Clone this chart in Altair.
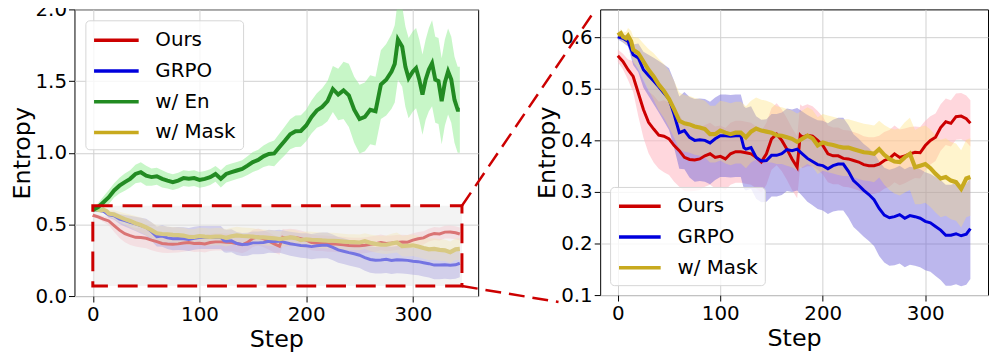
import altair as alt
import pandas as pd

# ---------------- data ----------------
SERIES = ["Ours", "GRPO", "w/ En", "w/ Mask"]
LINE_COLORS = ["#cc0000", "#0000dd", "#228b22", "#c8aa1e"]
BAND_COLORS = ["#ffb6c1", "#6a5fd8", "#90ee90", "#ffdf70"]

X_TICKS = [0, 100, 200, 300]
YL_TICKS = [0.0, 0.5, 1.0, 1.5, 2.0]
YR_TICKS = [0.1, 0.2, 0.3, 0.4, 0.5, 0.6]

ours_steps = sorted(list(range(0, 180, 5)) + [178] + list(range(180, 345, 5)) + [344])
ours_mean = [0.564, 0.553, 0.537, 0.524, 0.492, 0.460, 0.435, 0.422, 0.410, 0.408,
             0.403, 0.390, 0.380, 0.367, 0.363, 0.362, 0.364, 0.370, 0.374, 0.367,
             0.369, 0.364, 0.374, 0.378, 0.378, 0.376, 0.374, 0.367, 0.358, 0.374,
             0.403, 0.412, 0.400, 0.383, 0.364, 0.348, 0.410, 0.406, 0.410, 0.408,
             0.400, 0.390, 0.374, 0.370, 0.370, 0.365, 0.364, 0.361, 0.358, 0.353,
             0.351, 0.351, 0.354, 0.361, 0.365, 0.374, 0.367, 0.370, 0.374, 0.377,
             0.376, 0.390, 0.400, 0.406, 0.425, 0.436, 0.433, 0.446, 0.447, 0.442,
             0.433]
ours_sd = [0.012, 0.015, 0.020, 0.030, 0.045, 0.055, 0.060, 0.065, 0.065, 0.070,
           0.070, 0.070, 0.070, 0.065, 0.062, 0.060, 0.060, 0.060, 0.060, 0.060,
           0.060, 0.060, 0.060, 0.060, 0.060, 0.060, 0.060, 0.060, 0.060, 0.060,
           0.060, 0.060, 0.060, 0.060, 0.060, 0.060, 0.060, 0.060, 0.060, 0.058,
           0.057, 0.056, 0.055, 0.055, 0.055, 0.055, 0.055, 0.055, 0.055, 0.055,
           0.055, 0.055, 0.055, 0.055, 0.055, 0.055, 0.054, 0.053, 0.052, 0.050,
           0.050, 0.048, 0.047, 0.046, 0.045, 0.045, 0.045, 0.045, 0.045, 0.045,
           0.045]

grpo_steps = sorted(list(range(0, 125, 5)) + [123] + list(range(125, 345, 5)) + [344])
grpo_mean = [0.601, 0.598, 0.592, 0.566, 0.560, 0.537, 0.526, 0.515, 0.504, 0.492,
             0.480, 0.450, 0.415, 0.419, 0.406, 0.400, 0.401, 0.400, 0.395, 0.403,
             0.409, 0.409, 0.408, 0.409, 0.409, 0.386, 0.383, 0.386, 0.367, 0.360,
             0.361, 0.371, 0.371, 0.374, 0.382, 0.380, 0.383, 0.374, 0.365, 0.359,
             0.353, 0.351, 0.345, 0.351, 0.354, 0.354, 0.340, 0.322, 0.313, 0.303,
             0.295, 0.285, 0.268, 0.255, 0.250, 0.252, 0.256, 0.249, 0.254, 0.252,
             0.249, 0.243, 0.240, 0.233, 0.226, 0.216, 0.216, 0.219, 0.215, 0.218,
             0.229]
grpo_sd = [0.005, 0.008, 0.010, 0.020, 0.028, 0.035, 0.040, 0.045, 0.050, 0.055,
           0.060, 0.065, 0.070, 0.075, 0.078, 0.080, 0.080, 0.080, 0.080, 0.080,
           0.080, 0.080, 0.080, 0.080, 0.080, 0.080, 0.080, 0.080, 0.080, 0.080,
           0.080, 0.080, 0.080, 0.080, 0.080, 0.080, 0.080, 0.082, 0.084, 0.085,
           0.086, 0.087, 0.088, 0.089, 0.090, 0.090, 0.090, 0.090, 0.090, 0.090,
           0.090, 0.090, 0.092, 0.092, 0.093, 0.094, 0.095, 0.095, 0.095, 0.095,
           0.095, 0.095, 0.095, 0.096, 0.097, 0.098, 0.098, 0.098, 0.098, 0.098,
           0.098]

mask_steps = [0, 3, 5, 8, 10, 13] + list(range(15, 345, 5)) + [344]
mask_mean = [0.604, 0.608, 0.601, 0.598, 0.603, 0.592,
             0.576, 0.569, 0.553, 0.537, 0.524, 0.508, 0.496, 0.480, 0.460, 0.438,
             0.433, 0.431, 0.427, 0.425, 0.422, 0.412, 0.412, 0.419, 0.415, 0.412,
             0.415, 0.415, 0.406, 0.417, 0.423, 0.419, 0.417, 0.415, 0.410, 0.409,
             0.406, 0.403, 0.397, 0.403, 0.409, 0.404, 0.390, 0.396, 0.393, 0.391,
             0.388, 0.386, 0.386, 0.383, 0.380, 0.377, 0.376, 0.374, 0.383, 0.372,
             0.364, 0.359, 0.358, 0.367, 0.374, 0.348, 0.351, 0.354, 0.346, 0.335,
             0.326, 0.329, 0.322, 0.319, 0.306, 0.326,
             0.329]
mask_sd = [0.005, 0.008, 0.010, 0.012, 0.015, 0.020,
           0.025, 0.030, 0.035, 0.040, 0.045, 0.050, 0.052, 0.055, 0.055, 0.055,
           0.055, 0.055, 0.055, 0.055, 0.055, 0.055, 0.055, 0.058, 0.060, 0.060,
           0.060, 0.060, 0.060, 0.060, 0.060, 0.060, 0.060, 0.058, 0.056, 0.055,
           0.055, 0.055, 0.055, 0.055, 0.055, 0.055, 0.055, 0.055, 0.055, 0.055,
           0.055, 0.055, 0.055, 0.055, 0.055, 0.055, 0.055, 0.055, 0.055, 0.058,
           0.060, 0.062, 0.065, 0.068, 0.070, 0.072, 0.075, 0.075, 0.075, 0.075,
           0.075, 0.075, 0.075, 0.075, 0.075, 0.075,
           0.075]

en_steps = list(range(0, 285, 5)) + [283, 286, 290, 293, 296, 300, 303, 306, 309, 312,
                                     315, 318, 321, 324, 327, 330, 333, 336, 339, 342, 344]
en_mean = [0.600, 0.620, 0.655, 0.690, 0.737, 0.770, 0.795, 0.818, 0.852, 0.864,
           0.840, 0.830, 0.836, 0.818, 0.806, 0.795, 0.806, 0.823, 0.818, 0.823,
           0.810, 0.818, 0.830, 0.852, 0.818, 0.852, 0.864, 0.876, 0.887, 0.910,
           0.935, 0.950, 0.975, 0.991, 0.995, 1.040, 1.083, 1.129, 1.150, 1.152,
           1.190, 1.250, 1.295, 1.320, 1.360, 1.445, 1.406, 1.435, 1.400, 1.300,
           1.235, 1.250, 1.300, 1.290, 1.475, 1.509, 1.567,
           1.620, 1.790, 1.740, 1.600, 1.520, 1.567, 1.590, 1.510, 1.405, 1.510,
           1.580, 1.624, 1.510, 1.500, 1.360, 1.490, 1.567, 1.510, 1.370, 1.300,
           1.300]
en_sd = [0.010, 0.030, 0.040, 0.050, 0.050, 0.055, 0.060, 0.060, 0.065, 0.070,
         0.070, 0.060, 0.060, 0.060, 0.055, 0.055, 0.055, 0.055, 0.055, 0.055,
         0.055, 0.055, 0.055, 0.055, 0.060, 0.060, 0.060, 0.060, 0.060, 0.065,
         0.070, 0.070, 0.075, 0.080, 0.090, 0.095, 0.100, 0.105, 0.110, 0.110,
         0.110, 0.115, 0.120, 0.130, 0.140, 0.160, 0.180, 0.200, 0.220, 0.230,
         0.240, 0.240, 0.240, 0.240, 0.240, 0.250, 0.260,
         0.270, 0.280, 0.280, 0.280, 0.280, 0.280, 0.280, 0.280, 0.280, 0.280,
         0.290, 0.300, 0.300, 0.300, 0.300, 0.300, 0.300, 0.300, 0.300, 0.300,
         0.300]


def frame(name, steps, vals, sds):
    return pd.DataFrame({
        "step": steps,
        "value": vals,
        "lo": [v - s for v, s in zip(vals, sds)],
        "hi": [v + s for v, s in zip(vals, sds)],
        "series": [name] * len(steps),
    })


df_ours = frame("Ours", ours_steps, ours_mean, ours_sd)
df_grpo = frame("GRPO", grpo_steps, grpo_mean, grpo_sd)
df_en = frame("w/ En", en_steps, en_mean, en_sd)
df_mask = frame("w/ Mask", mask_steps, mask_mean, mask_sd)

BAND_OPACITY = {"Ours": 0.55, "GRPO": 0.45, "w/ En": 0.5, "w/ Mask": 0.35}
LINE_WIDTH = {"Ours": 3, "GRPO": 3, "w/ En": 4, "w/ Mask": 4.2}

RED = "#cc0000"
XDOM = [-17.2, 361.2]


def x_enc():
    return alt.X("step:Q", scale=alt.Scale(domain=XDOM, nice=False, zero=False),
                 axis=alt.Axis(values=X_TICKS, title="Step", format="d"))


def y_axis(ticks):
    return alt.Axis(values=ticks, format=".1f", title="Entropy",
                    labelPadding=2, titlePadding=1)


def panel_layers(frames, names, ydom, yticks, leg):
    yscale = alt.Scale(domain=ydom, nice=False, zero=False)
    cols = [LINE_COLORS[SERIES.index(n)] for n in names]
    bcols = [BAND_COLORS[SERIES.index(n)] for n in names]
    cscale = alt.Scale(domain=names, range=cols)
    bands, lines = {}, {}
    for n, d, bc in zip(names, frames, bcols):
        bands[n] = alt.Chart(d).mark_area(opacity=BAND_OPACITY[n], clip=True, color=bc).encode(
            x=x_enc(),
            y=alt.Y("lo:Q", scale=yscale, axis=y_axis(yticks)),
            y2="hi:Q",
        )
        lines[n] = alt.Chart(d).mark_line(strokeWidth=LINE_WIDTH[n], clip=True).encode(
            x=x_enc(),
            y=alt.Y("value:Q", scale=yscale, axis=y_axis(yticks)),
            color=alt.Color("series:N", scale=cscale, legend=leg),
        )
    return bands, lines, yscale


def make_legend(orient, offset, size, label_offset):
    return alt.Legend(orient=orient, offset=offset, title=None,
                      labelFontSize=20, labelColor="black", labelFont="DejaVu Sans",
                      symbolType="M-1,0H3", symbolSize=size, symbolStrokeWidth=3.5,
                      labelOffset=label_offset, rowPadding=8, padding=7,
                      fillColor="rgba(255,255,255,0.8)", strokeColor="#d6d6d6",
                      cornerRadius=4)


# ---------------- left panel ----------------
left_names = ["Ours", "GRPO", "w/ En", "w/ Mask"]
lb, ll, yl_scale = panel_layers([df_ours, df_grpo, df_en, df_mask], left_names,
                                [0, 2], YL_TICKS, make_legend("top-left", 11, 506, 37.5))

zoom_box = pd.DataFrame({"step": [0], "step2": [346], "value": [0.07], "value2": [0.63]})
overlay = alt.Chart(zoom_box).mark_rect(fill="#e8e8e8", opacity=0.5).encode(
    x=x_enc(), x2="step2:Q",
    y=alt.Y("value:Q", scale=yl_scale, axis=y_axis(YL_TICKS)), y2="value2:Q")
box_edge = alt.Chart(zoom_box).mark_rect(filled=False, color=RED, strokeWidth=3,
                                         strokeDash=[20, 10]).encode(
    x=x_enc(), x2="step2:Q",
    y=alt.Y("value:Q", scale=yl_scale, axis=y_axis(YL_TICKS)), y2="value2:Q")

corner_top = pd.DataFrame({"step": [346], "value": [0.63]})
corner_bot = pd.DataFrame({"step": [346], "value": [0.07]})
conn_top = alt.Chart(corner_top).mark_rule(color=RED, strokeWidth=2.5, strokeDash=[16, 8]).encode(
    x=x_enc(), y=alt.Y("value:Q", scale=yl_scale, axis=y_axis(YL_TICKS)),
    x2=alt.value(524), y2=alt.value(2))
conn_bot = alt.Chart(corner_bot).mark_rule(color=RED, strokeWidth=2.5, strokeDash=[16, 8]).encode(
    x=x_enc(), y=alt.Y("value:Q", scale=yl_scale, axis=y_axis(YL_TICKS)),
    x2=alt.value(488), y2=alt.value(295))

left = alt.layer(
    lb["Ours"], lb["GRPO"], lb["w/ Mask"],
    ll["Ours"], ll["GRPO"], ll["w/ Mask"],
    overlay,
    lb["w/ En"], ll["w/ En"],
    box_edge, conn_top, conn_bot,
).properties(width=407, height=289)

# ---------------- right panel ----------------
right_names = ["Ours", "GRPO", "w/ Mask"]
rb, rl, _ = panel_layers([df_ours, df_grpo, df_mask], right_names,
                         [0.1, 0.654], YR_TICKS, make_legend("bottom-left", 10, 441, 36))
right = alt.layer(
    rb["Ours"], rb["GRPO"], rb["w/ Mask"],
    rl["Ours"], rl["GRPO"], rl["w/ Mask"],
).properties(width=391, height=288)

chart = alt.hconcat(left, right, spacing=123, bounds="flush").resolve_scale(
    color="independent", x="independent", y="independent"
).resolve_legend(color="independent").properties(
    padding={"left": 1, "top": -11, "right": 0, "bottom": 0}
).configure(font="DejaVu Sans").configure_view(
    stroke="black", strokeWidth=1
).configure_axis(
    labelFont="DejaVu Sans", titleFont="DejaVu Sans",
    labelFontSize=20, titleFontSize=24, titleFontWeight="normal",
    labelColor="black", titleColor="black", tickColor="black",
    tickSize=6, tickWidth=1, domain=False,
    gridColor="#d0d0d0", gridWidth=1, labelPadding=3, titlePadding=3,
)

chart.save("out.html", embed_options={"renderer": "svg", "actions": False})
